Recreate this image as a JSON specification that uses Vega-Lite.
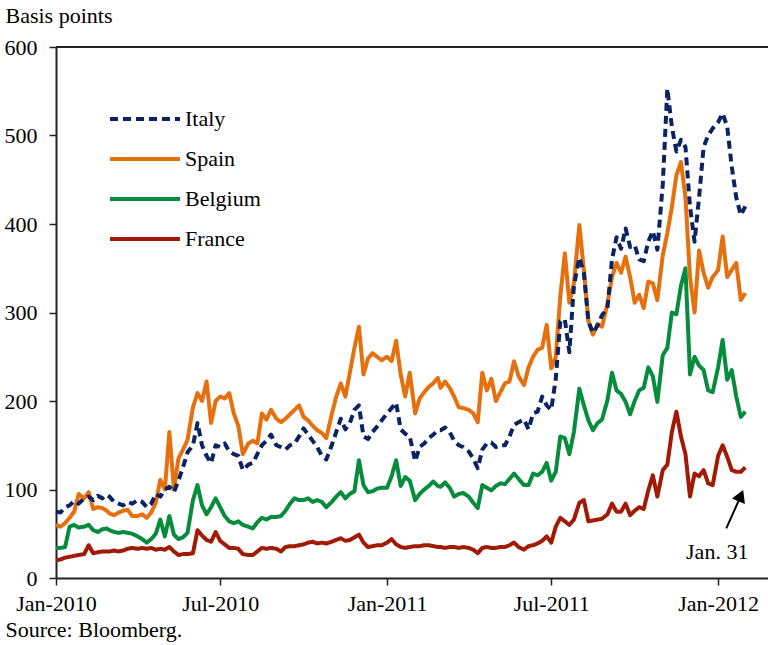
{
  "$schema": "https://vega.github.io/schema/vega-lite/v6.json",
  "width": 712,
  "height": 531,
  "autosize": {"type": "none"},
  "padding": {"left": 56, "top": 47, "right": 0, "bottom": 67},
  "background": "white",
  "config": {"view": {"stroke": null}, "font": "Liberation Serif"},
  "layer": [
    {
      "data": {"values": [{}]},
      "mark": {"type": "rule", "color": "#222", "strokeWidth": 2},
      "encoding": {"y": {"datum": 600, "type": "quantitative"}}
    },
    {
      "data": {"values": [
        {"d":"2010-01-01","Italy":75,"Spain":60,"Belgium":34,"France":20},
        {"d":"2010-01-06","Italy":74,"Spain":58,"Belgium":34,"France":21},
        {"d":"2010-01-11","Italy":80,"Spain":62,"Belgium":35,"France":23},
        {"d":"2010-01-16","Italy":82,"Spain":68,"Belgium":58,"France":24},
        {"d":"2010-01-21","Italy":87,"Spain":75,"Belgium":60,"France":25},
        {"d":"2010-01-26","Italy":84,"Spain":95,"Belgium":57,"France":26},
        {"d":"2010-02-01","Italy":90,"Spain":90,"Belgium":58,"France":27},
        {"d":"2010-02-06","Italy":92,"Spain":97,"Belgium":60,"France":37},
        {"d":"2010-02-11","Italy":88,"Spain":78,"Belgium":54,"France":28},
        {"d":"2010-02-16","Italy":93,"Spain":80,"Belgium":52,"France":29},
        {"d":"2010-02-21","Italy":90,"Spain":79,"Belgium":55,"France":30},
        {"d":"2010-02-26","Italy":94,"Spain":76,"Belgium":56,"France":30},
        {"d":"2010-03-01","Italy":92,"Spain":73,"Belgium":54,"France":30},
        {"d":"2010-03-06","Italy":86,"Spain":71,"Belgium":52,"France":31},
        {"d":"2010-03-11","Italy":84,"Spain":74,"Belgium":51,"France":30},
        {"d":"2010-03-16","Italy":82,"Spain":76,"Belgium":52,"France":31},
        {"d":"2010-03-21","Italy":86,"Spain":77,"Belgium":51,"France":33},
        {"d":"2010-03-26","Italy":84,"Spain":70,"Belgium":50,"France":34},
        {"d":"2010-04-01","Italy":88,"Spain":70,"Belgium":47,"France":33},
        {"d":"2010-04-06","Italy":86,"Spain":72,"Belgium":44,"France":34},
        {"d":"2010-04-11","Italy":80,"Spain":68,"Belgium":40,"France":33},
        {"d":"2010-04-16","Italy":84,"Spain":74,"Belgium":44,"France":34},
        {"d":"2010-04-21","Italy":95,"Spain":85,"Belgium":50,"France":32},
        {"d":"2010-04-26","Italy":92,"Spain":111,"Belgium":66,"France":33},
        {"d":"2010-05-01","Italy":100,"Spain":100,"Belgium":47,"France":32},
        {"d":"2010-05-06","Italy":103,"Spain":165,"Belgium":70,"France":35},
        {"d":"2010-05-11","Italy":97,"Spain":100,"Belgium":49,"France":30},
        {"d":"2010-05-16","Italy":110,"Spain":135,"Belgium":44,"France":26},
        {"d":"2010-05-21","Italy":125,"Spain":145,"Belgium":46,"France":27},
        {"d":"2010-05-26","Italy":142,"Spain":156,"Belgium":51,"France":27},
        {"d":"2010-06-01","Italy":150,"Spain":193,"Belgium":88,"France":28},
        {"d":"2010-06-06","Italy":175,"Spain":209,"Belgium":105,"France":54},
        {"d":"2010-06-11","Italy":150,"Spain":200,"Belgium":82,"France":48},
        {"d":"2010-06-16","Italy":138,"Spain":222,"Belgium":72,"France":43},
        {"d":"2010-06-21","Italy":130,"Spain":175,"Belgium":80,"France":41},
        {"d":"2010-06-26","Italy":150,"Spain":200,"Belgium":90,"France":52},
        {"d":"2010-07-01","Italy":148,"Spain":205,"Belgium":80,"France":42},
        {"d":"2010-07-06","Italy":152,"Spain":203,"Belgium":70,"France":38},
        {"d":"2010-07-11","Italy":143,"Spain":209,"Belgium":64,"France":34},
        {"d":"2010-07-16","Italy":140,"Spain":186,"Belgium":62,"France":34},
        {"d":"2010-07-21","Italy":138,"Spain":172,"Belgium":64,"France":33},
        {"d":"2010-07-26","Italy":122,"Spain":140,"Belgium":60,"France":27},
        {"d":"2010-08-01","Italy":128,"Spain":152,"Belgium":58,"France":26},
        {"d":"2010-08-06","Italy":130,"Spain":155,"Belgium":56,"France":26},
        {"d":"2010-08-11","Italy":140,"Spain":152,"Belgium":63,"France":30},
        {"d":"2010-08-16","Italy":150,"Spain":186,"Belgium":68,"France":34},
        {"d":"2010-08-21","Italy":155,"Spain":179,"Belgium":66,"France":33},
        {"d":"2010-08-26","Italy":162,"Spain":190,"Belgium":69,"France":34},
        {"d":"2010-09-01","Italy":150,"Spain":180,"Belgium":69,"France":33},
        {"d":"2010-09-06","Italy":148,"Spain":176,"Belgium":70,"France":30},
        {"d":"2010-09-11","Italy":145,"Spain":180,"Belgium":76,"France":35},
        {"d":"2010-09-16","Italy":150,"Spain":185,"Belgium":84,"France":36},
        {"d":"2010-09-21","Italy":152,"Spain":190,"Belgium":90,"France":36},
        {"d":"2010-09-26","Italy":160,"Spain":195,"Belgium":88,"France":37},
        {"d":"2010-10-01","Italy":169,"Spain":182,"Belgium":88,"France":38},
        {"d":"2010-10-06","Italy":162,"Spain":178,"Belgium":90,"France":40},
        {"d":"2010-10-11","Italy":155,"Spain":172,"Belgium":86,"France":41},
        {"d":"2010-10-16","Italy":148,"Spain":167,"Belgium":88,"France":39},
        {"d":"2010-10-21","Italy":138,"Spain":164,"Belgium":86,"France":40},
        {"d":"2010-10-26","Italy":134,"Spain":158,"Belgium":80,"France":39},
        {"d":"2010-11-01","Italy":150,"Spain":185,"Belgium":86,"France":41},
        {"d":"2010-11-06","Italy":165,"Spain":205,"Belgium":92,"France":43},
        {"d":"2010-11-11","Italy":180,"Spain":220,"Belgium":97,"France":45},
        {"d":"2010-11-16","Italy":168,"Spain":205,"Belgium":90,"France":42},
        {"d":"2010-11-21","Italy":175,"Spain":232,"Belgium":95,"France":43},
        {"d":"2010-11-26","Italy":190,"Spain":260,"Belgium":98,"France":46},
        {"d":"2010-12-01","Italy":195,"Spain":284,"Belgium":133,"France":49},
        {"d":"2010-12-06","Italy":160,"Spain":230,"Belgium":105,"France":40},
        {"d":"2010-12-11","Italy":157,"Spain":248,"Belgium":97,"France":35},
        {"d":"2010-12-16","Italy":165,"Spain":254,"Belgium":98,"France":36},
        {"d":"2010-12-21","Italy":171,"Spain":250,"Belgium":101,"France":37},
        {"d":"2010-12-26","Italy":178,"Spain":246,"Belgium":102,"France":37},
        {"d":"2011-01-01","Italy":186,"Spain":250,"Belgium":102,"France":40},
        {"d":"2011-01-06","Italy":192,"Spain":245,"Belgium":115,"France":44},
        {"d":"2011-01-11","Italy":198,"Spain":268,"Belgium":133,"France":38},
        {"d":"2011-01-16","Italy":168,"Spain":230,"Belgium":104,"France":35},
        {"d":"2011-01-21","Italy":163,"Spain":205,"Belgium":114,"France":34},
        {"d":"2011-01-26","Italy":160,"Spain":232,"Belgium":110,"France":35},
        {"d":"2011-02-01","Italy":132,"Spain":186,"Belgium":88,"France":36},
        {"d":"2011-02-06","Italy":148,"Spain":203,"Belgium":95,"France":36},
        {"d":"2011-02-11","Italy":152,"Spain":210,"Belgium":100,"France":37},
        {"d":"2011-02-16","Italy":158,"Spain":216,"Belgium":104,"France":37},
        {"d":"2011-02-21","Italy":162,"Spain":220,"Belgium":109,"France":36},
        {"d":"2011-02-26","Italy":167,"Spain":226,"Belgium":104,"France":35},
        {"d":"2011-03-01","Italy":167,"Spain":215,"Belgium":103,"France":35},
        {"d":"2011-03-06","Italy":170,"Spain":222,"Belgium":108,"France":34},
        {"d":"2011-03-11","Italy":165,"Spain":215,"Belgium":102,"France":35},
        {"d":"2011-03-16","Italy":155,"Spain":205,"Belgium":92,"France":35},
        {"d":"2011-03-21","Italy":150,"Spain":193,"Belgium":95,"France":34},
        {"d":"2011-03-26","Italy":148,"Spain":192,"Belgium":96,"France":35},
        {"d":"2011-04-01","Italy":143,"Spain":190,"Belgium":92,"France":34},
        {"d":"2011-04-06","Italy":135,"Spain":186,"Belgium":85,"France":32},
        {"d":"2011-04-11","Italy":124,"Spain":176,"Belgium":79,"France":28},
        {"d":"2011-04-16","Italy":145,"Spain":232,"Belgium":105,"France":34},
        {"d":"2011-04-21","Italy":152,"Spain":212,"Belgium":102,"France":35},
        {"d":"2011-04-26","Italy":153,"Spain":225,"Belgium":99,"France":34},
        {"d":"2011-05-01","Italy":148,"Spain":200,"Belgium":104,"France":34},
        {"d":"2011-05-06","Italy":150,"Spain":210,"Belgium":107,"France":35},
        {"d":"2011-05-11","Italy":150,"Spain":220,"Belgium":106,"France":35},
        {"d":"2011-05-16","Italy":160,"Spain":222,"Belgium":112,"France":37},
        {"d":"2011-05-21","Italy":173,"Spain":245,"Belgium":118,"France":40},
        {"d":"2011-05-26","Italy":176,"Spain":228,"Belgium":112,"France":35},
        {"d":"2011-06-01","Italy":179,"Spain":218,"Belgium":105,"France":32},
        {"d":"2011-06-06","Italy":168,"Spain":238,"Belgium":105,"France":36},
        {"d":"2011-06-11","Italy":186,"Spain":250,"Belgium":118,"France":37},
        {"d":"2011-06-16","Italy":188,"Spain":258,"Belgium":116,"France":39},
        {"d":"2011-06-21","Italy":205,"Spain":260,"Belgium":120,"France":42},
        {"d":"2011-06-26","Italy":195,"Spain":286,"Belgium":130,"France":47},
        {"d":"2011-07-01","Italy":190,"Spain":237,"Belgium":110,"France":40},
        {"d":"2011-07-06","Italy":225,"Spain":250,"Belgium":120,"France":58},
        {"d":"2011-07-11","Italy":290,"Spain":318,"Belgium":160,"France":68},
        {"d":"2011-07-16","Italy":292,"Spain":367,"Belgium":158,"France":64},
        {"d":"2011-07-21","Italy":255,"Spain":311,"Belgium":140,"France":60},
        {"d":"2011-07-26","Italy":330,"Spain":333,"Belgium":165,"France":66},
        {"d":"2011-08-01","Italy":362,"Spain":399,"Belgium":214,"France":85},
        {"d":"2011-08-06","Italy":345,"Spain":348,"Belgium":195,"France":88},
        {"d":"2011-08-11","Italy":290,"Spain":290,"Belgium":178,"France":64},
        {"d":"2011-08-16","Italy":277,"Spain":275,"Belgium":167,"France":65},
        {"d":"2011-08-21","Italy":285,"Spain":287,"Belgium":175,"France":66},
        {"d":"2011-08-26","Italy":297,"Spain":284,"Belgium":179,"France":67},
        {"d":"2011-09-01","Italy":305,"Spain":310,"Belgium":201,"France":72},
        {"d":"2011-09-06","Italy":360,"Spain":340,"Belgium":232,"France":84},
        {"d":"2011-09-11","Italy":385,"Spain":356,"Belgium":212,"France":75},
        {"d":"2011-09-16","Italy":372,"Spain":345,"Belgium":208,"France":75},
        {"d":"2011-09-21","Italy":395,"Spain":363,"Belgium":199,"France":84},
        {"d":"2011-09-26","Italy":374,"Spain":340,"Belgium":185,"France":71},
        {"d":"2011-10-01","Italy":376,"Spain":311,"Belgium":200,"France":76},
        {"d":"2011-10-06","Italy":360,"Spain":320,"Belgium":212,"France":80},
        {"d":"2011-10-11","Italy":358,"Spain":305,"Belgium":215,"France":78},
        {"d":"2011-10-16","Italy":380,"Spain":335,"Belgium":238,"France":99},
        {"d":"2011-10-21","Italy":392,"Spain":333,"Belgium":228,"France":116},
        {"d":"2011-10-26","Italy":371,"Spain":314,"Belgium":199,"France":92},
        {"d":"2011-11-01","Italy":445,"Spain":365,"Belgium":252,"France":122},
        {"d":"2011-11-06","Italy":553,"Spain":390,"Belgium":260,"France":128},
        {"d":"2011-11-11","Italy":510,"Spain":419,"Belgium":300,"France":165},
        {"d":"2011-11-16","Italy":482,"Spain":455,"Belgium":298,"France":188},
        {"d":"2011-11-21","Italy":495,"Spain":470,"Belgium":330,"France":160},
        {"d":"2011-11-26","Italy":487,"Spain":430,"Belgium":350,"France":140},
        {"d":"2011-12-01","Italy":420,"Spain":340,"Belgium":230,"France":92},
        {"d":"2011-12-06","Italy":380,"Spain":300,"Belgium":250,"France":118},
        {"d":"2011-12-11","Italy":430,"Spain":370,"Belgium":240,"France":115},
        {"d":"2011-12-16","Italy":487,"Spain":345,"Belgium":235,"France":122},
        {"d":"2011-12-21","Italy":500,"Spain":328,"Belgium":212,"France":107},
        {"d":"2011-12-26","Italy":508,"Spain":340,"Belgium":210,"France":105},
        {"d":"2012-01-01","Italy":515,"Spain":348,"Belgium":238,"France":138},
        {"d":"2012-01-06","Italy":525,"Spain":386,"Belgium":269,"France":150},
        {"d":"2012-01-11","Italy":510,"Spain":340,"Belgium":224,"France":137},
        {"d":"2012-01-16","Italy":465,"Spain":348,"Belgium":235,"France":122},
        {"d":"2012-01-21","Italy":430,"Spain":356,"Belgium":205,"France":120},
        {"d":"2012-01-26","Italy":410,"Spain":314,"Belgium":182,"France":120},
        {"d":"2012-01-31","Italy":420,"Spain":322,"Belgium":188,"France":125}
      ]},
      "transform": [{"fold": ["France", "Belgium", "Spain", "Italy"], "as": ["country", "value"]}],
      "mark": {"type": "line", "strokeWidth": 4, "strokeJoin": "round"},
      "encoding": {
        "x": {
          "field": "d", "type": "temporal",
          "scale": {"type": "utc", "domain": [{"year": 2010, "month": 1, "date": 1, "utc": true}, {"year": 2012, "month": 2, "date": 25, "utc": true}]},
          "axis": {
            "values": [
              {"year": 2010, "month": 1, "date": 1, "utc": true},
              {"year": 2010, "month": 7, "date": 1, "utc": true},
              {"year": 2011, "month": 1, "date": 1, "utc": true},
              {"year": 2011, "month": 7, "date": 1, "utc": true},
              {"year": 2012, "month": 1, "date": 1, "utc": true}
            ],
            "format": "%b-%Y",
            "labelFont": "Liberation Serif", "labelFontSize": 22, "labelColor": "black",
            "labelFlush": false, "labelOverlap": false, "labelPadding": 8,
            "tickSize": 7, "tickColor": "#222", "tickWidth": 1.5,
            "domainColor": "#222", "domainWidth": 2, "grid": false,
            "title": "Source: Bloomberg.", "titleFont": "Liberation Serif", "titleFontSize": 22,
            "titleFontWeight": "normal", "titleColor": "black",
            "titleX": -51, "titleY": 58, "titleAlign": "left", "titleBaseline": "alphabetic"
          }
        },
        "y": {
          "field": "value", "type": "quantitative",
          "scale": {"domain": [0, 600]},
          "axis": {
            "values": [0, 100, 200, 300, 400, 500, 600],
            "labelFont": "Liberation Serif", "labelFontSize": 22, "labelColor": "black",
            "labelPadding": 12, "labelFlush": false,
            "tickSize": 7, "tickColor": "#222", "tickWidth": 1.5,
            "domainColor": "#222", "domainWidth": 2, "grid": false,
            "title": "Basis points", "titleFont": "Liberation Serif", "titleFontSize": 22,
            "titleFontWeight": "normal", "titleColor": "black", "titleAngle": 0,
            "titleX": -51, "titleY": -25, "titleAlign": "left", "titleBaseline": "alphabetic"
          }
        },
        "color": {
          "field": "country", "type": "nominal",
          "scale": {"domain": ["Italy", "Spain", "Belgium", "France"], "range": ["#0b2362", "#e66f0e", "#078c3e", "#a01a06"]},
          "legend": {
            "orient": "none", "legendX": 52, "legendY": 60, "title": null,
            "symbolType": "stroke", "symbolSize": 4900, "symbolStrokeWidth": 4,
            "labelFont": "Liberation Serif", "labelFontSize": 22, "labelColor": "black",
            "labelOffset": 3, "clipHeight": 24, "rowPadding": 16, "padding": 0
          }
        },
        "strokeDash": {
          "field": "country", "type": "nominal",
          "scale": {"domain": ["Italy", "Spain", "Belgium", "France"], "range": [[8, 5], [1, 0], [1, 0], [1, 0]]},
          "legend": {
            "orient": "none", "legendX": 52, "legendY": 60, "title": null,
            "symbolType": "stroke", "symbolSize": 4900, "symbolStrokeWidth": 4,
            "labelFont": "Liberation Serif", "labelFontSize": 22, "labelColor": "black",
            "labelOffset": 3, "clipHeight": 24, "rowPadding": 16, "padding": 0
          }
        }
      }
    },
    {
      "data": {"values": [{"d": "2012-01-10", "v": 56, "d2": "2012-01-27", "v2": 95}]},
      "mark": {"type": "rule", "color": "black", "strokeWidth": 2},
      "encoding": {
        "x": {"field": "d", "type": "temporal"},
        "y": {"field": "v", "type": "quantitative"},
        "x2": {"field": "d2"},
        "y2": {"field": "v2"}
      }
    },
    {
      "data": {"values": [{"d": "2012-01-26", "v": 93}]},
      "mark": {"type": "point", "shape": "triangle-up", "filled": true, "color": "black", "size": 200, "angle": 23, "opacity": 1},
      "encoding": {
        "x": {"field": "d", "type": "temporal"},
        "y": {"field": "v", "type": "quantitative"}
      }
    },
    {
      "data": {"values": [{"d": "2011-12-31", "v": 21, "label": "Jan. 31"}]},
      "mark": {"type": "text", "font": "Liberation Serif", "fontSize": 22, "align": "center", "baseline": "alphabetic", "color": "black"},
      "encoding": {
        "x": {"field": "d", "type": "temporal"},
        "y": {"field": "v", "type": "quantitative"},
        "text": {"field": "label"}
      }
    }
  ]
}
